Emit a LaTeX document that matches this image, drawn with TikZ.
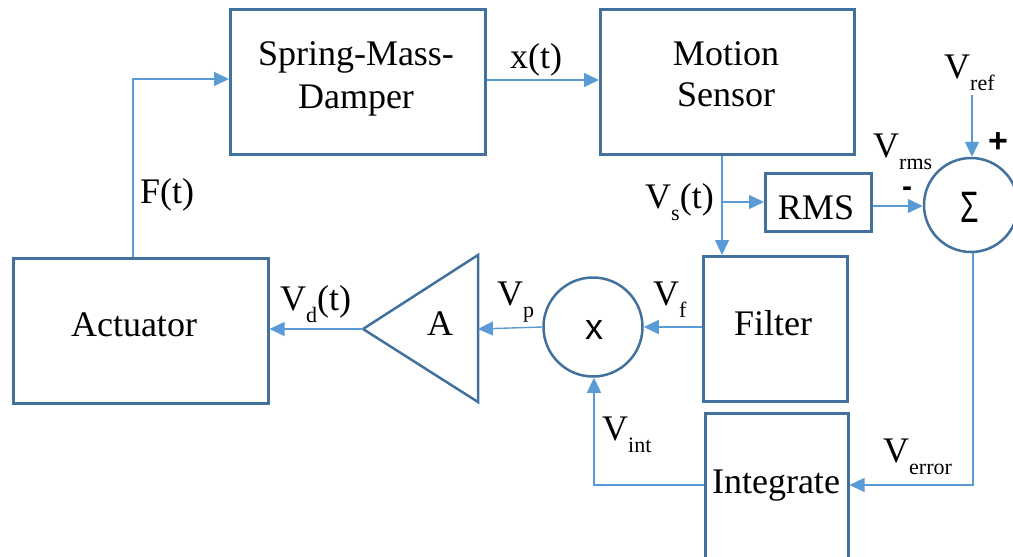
\documentclass[tikz,border=0pt]{standalone}
\usepackage{fontspec}
\setmainfont{Liberation Serif}
\newfontfamily\timesf{Liberation Serif}
\newfontfamily\arialf{Liberation Sans}
\usetikzlibrary{arrows.meta}
\definecolor{boxc}{HTML}{41719C}
\definecolor{linec}{HTML}{5B9BD5}
\newcommand{\lowsub}[1]{\raisebox{-12pt}{\fontsize{22}{22}\selectfont #1}}
\begin{document}
\begin{tikzpicture}[x=1pt,y=-1pt,
  blk/.style={draw=boxc,line width=2.5pt,inner sep=0pt,anchor=north west},
  circ/.style={draw=boxc,line width=2.5pt,circle,inner sep=0pt},
  conn/.style={draw=linec,line width=1.4pt,-{Triangle[length=15pt,width=14pt]}},
  lbl/.style={inner sep=0pt,anchor=base west,font=\timesf\fontsize{36}{40}\selectfont},
  txt/.style={inner sep=0pt,anchor=base,font=\timesf\fontsize{36}{40}\selectfont}]
\useasboundingbox (0,0) rectangle (1013,557);
% blocks
\node[blk,minimum width=255pt,minimum height=145pt] (smd) at (229,8) {};
\node[txt] at (356,65) {Spring-Mass-};
\node[txt] at (356,108) {Damper};
\node[blk,minimum width=254pt,minimum height=145pt] (ms) at (599,8) {};
\node[txt] at (726,65) {Motion};
\node[txt] at (726,106) {Sensor};
\node[blk,minimum width=255pt,minimum height=145pt] (act) at (12,257) {};
\node[txt] at (134,336) {Actuator};
\node[blk,minimum width=144pt,minimum height=145pt] (filt) at (702,255) {};
\node[txt] at (773,335) {Filter};
\node[blk,minimum width=143pt,minimum height=160pt] (intg) at (704,412) {};
\node[txt] at (776,493) {Integrate};
\node[blk,minimum width=106pt,minimum height=58pt] (rms) at (764,172) {};
\node[txt] at (816,219) {RMS};
\node[circ,minimum size=94pt] (sum) at (971,205) {};
\node[inner sep=0pt,anchor=base,font=\arialf\fontsize{44}{44}\selectfont] at (970,222) {\scalebox{0.68}[1]{Σ}};
\node[circ,minimum size=99pt] (mul) at (593,327) {};
\node[inner sep=0pt,anchor=base,font=\arialf\fontsize{36}{36}\selectfont] at (594,339) {x};
% triangle amplifier
\coordinate (tip) at (363,329);
\coordinate (trb) at (478,329);
\draw[boxc,line width=2.5pt,line join=miter] (478,255) -- (tip) -- (478,402) -- cycle;
\node[txt] (amp) at (440,335) {A};
% connectors
\coordinate (fup) at (133,79);
\draw[conn] (act.north -| fup) -- (fup) -- (smd.west |- fup);
\draw[conn] (smd.east |- 0,80) -- (ms.west |- 0,80);
\coordinate (vs) at (722,202);
\draw[conn] (ms.south -| vs) -- (filt.north -| vs);
\draw[conn] (vs) -- (rms.west |- vs);
\draw[conn] (rms.east |- 0,206) -- (sum.west |- 0,206);
\coordinate (vref) at (972,95);
\draw[conn] (vref) -- (sum.north -| vref);
\coordinate (err) at (973,485);
\draw[conn] (sum.south -| err) -- (err) -- (intg.east |- err);
\coordinate (vint) at (594,485);
\draw[conn] (intg.west |- vint) -- (vint) -- (mul.south -| vint);
\draw[conn] (filt.west |- mul) -- (mul.east);
\draw[conn] (mul.west) -- (trb);
\draw[conn] (tip) -- (act.east |- tip);
% labels
\node[lbl] at (510,68) {x(t)};
\node[lbl] at (140,203) {F(t)};
\node[lbl] at (645,208) {V\lowsub{s}(t)};
\node[lbl] at (873,157) {V\lowsub{rms}};
\node[inner sep=0pt,anchor=base,font=\arialf\bfseries\fontsize{30}{30}\selectfont] at (907,196) {\smash{-}};
\node[inner sep=0pt,font=\arialf\bfseries\fontsize{34}{34}\selectfont] at (998,143) {+};
\node[lbl] at (944,78) {V\lowsub{ref}};
\node[lbl] at (280,310) {V\lowsub{d}(t)};
\node[lbl] at (497,305) {V\lowsub{p}};
\node[lbl] at (653,305) {V\lowsub{f}};
\node[lbl] at (602,440) {V\lowsub{int}};
\node[lbl] at (883,462) {V\lowsub{error}};
\end{tikzpicture}
\end{document}
